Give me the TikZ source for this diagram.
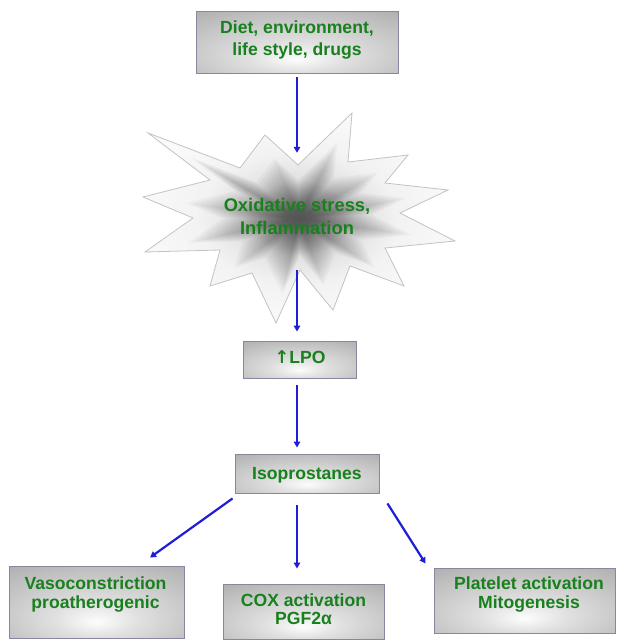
\documentclass[tikz,border=0pt]{standalone}
\usepackage{fontspec}
\setmainfont{Liberation Sans}
\newfontfamily\symfont{DejaVu Sans}
\usetikzlibrary{arrows.meta}
\definecolor{txtgreen}{RGB}{25,128,30}
\definecolor{arrblue}{RGB}{30,30,215}
\definecolor{boxedge}{RGB}{135,135,160}
\definecolor{staredge}{RGB}{195,195,195}
\definecolor{bxA}{gray}{0.99}
\definecolor{bxB}{gray}{0.88}
\definecolor{bxC}{gray}{0.68}
\definecolor{stA}{gray}{0.58}
\definecolor{stA2}{gray}{0.66}
\definecolor{stB}{gray}{0.88}
\definecolor{stB2}{gray}{0.95}
\definecolor{stC}{gray}{0.98}
\pgfdeclareradialshading{boxshade}{\pgfpoint{0bp}{-14bp}}{color(0bp)=(bxA); color(12bp)=(bxB); color(42bp)=(bxC); color(80bp)=(bxC)}
\pgfdeclareradialshading{starshade}{\pgfpoint{0bp}{0bp}}{color(0bp)=(stA); color(3bp)=(stA2); color(9bp)=(stB); color(16bp)=(stB2); color(26bp)=(stC); color(50bp)=(stC)}
\newcommand{\starpath}{(148,133) -- (240,168) -- (265,135) -- (298,165) -- (352,113) -- (348,162)
  -- (408,155) -- (385,183) -- (448,190) -- (400,213) -- (455,241) -- (385,248)
  -- (404,286) -- (350,266) -- (333,310) -- (300,270) -- (276,323) -- (252,273)
  -- (210,286) -- (220,250) -- (145,252) -- (193,218) -- (143,197) -- (210,180) -- cycle}
\tikzset{
  box/.style={draw=boxedge, line width=0.9pt, shading=boxshade, inner sep=0pt},
  txt/.style={text=txtgreen, font=\bfseries\fontsize{17.6}{22}\selectfont, align=center, inner sep=0pt},
  txtb/.style={txt, font=\bfseries\fontsize{17.6}{18.3}\selectfont},
  flow/.style={draw=arrblue, line width=2.2pt, -{Triangle[length=6pt,width=6.5pt]}},
  starlayer/.style={fill=black, fill opacity=0.03, draw=none}
}
\begin{document}
\begin{tikzpicture}[x=1pt,y=-1pt]
\useasboundingbox[fill=white] (0,0) rectangle (616,640);
% boxes
\node[box, minimum width=202, minimum height=62] (top) at (297,42) {};
\node[txt] (toptxt) at (297,39.5) {Diet, environment,\\life style, drugs};
% star
\shade[shading=starshade] \starpath;
\foreach \s in {0.72,0.68,...,0.08}{
  \begin{scope}[shift={(299,219)}, scale=\s, shift={(-299,-219)}]
    \path[starlayer] \starpath;
  \end{scope}
}
\draw[staredge, line width=0.8pt] \starpath;
\node[minimum width=312, minimum height=117, inner sep=0pt] (star) at (297,211.5) {};
\node[txt, font=\bfseries\fontsize{18.3}{23}\selectfont] (startxt) at (297,216.8) {Oxidative stress,\\Inflammation};
\node[box, minimum width=113, minimum height=37] (lpo) at (299.5,359.5) {};
\node[txt, anchor=base] (lpotxt) at (300,363) {{\symfont\bfseries ↑}LPO};
\node[box, minimum width=144, minimum height=39] (iso) at (307,473.5) {};
\node[txt, anchor=base] (isotxt) at (307,479) {Isoprostanes};
\node[box, minimum width=175, minimum height=72] (vaso) at (96.5,602) {};
\node[txtb] (vasotxt) at (95.5,594.6) {Vasoconstriction\\proatherogenic};
\node[box, minimum width=161, minimum height=55] (cox) at (303.5,611.5) {};
\node[txtb] (coxtxt) at (303.5,609.5) {COX activation\\PGF2α};
\node[box, minimum width=181, minimum height=65] (plat) at (524.5,600.5) {};
\node[txtb] (plattxt) at (529,594.6) {Platelet activation\\Mitogenesis};
% connectors
\draw[flow, shorten <=4pt] (top.south -| star.north) -- (star.north);
\draw[flow, shorten >=9pt] (star.south) -- (lpo.north -| star.south);
\draw[flow, shorten <=7pt, shorten >=6pt] (lpo.south -| star.south) -- (iso.north -| star.south);
\draw[flow, shorten <=12pt, shorten >=15pt] (iso.south -| star.south) -- (cox.north -| star.south);
\draw[flow] ([shift={(-2,5)}]iso.south west) -- ([shift={(53.5,-8)}]vaso.north);
\draw[flow] ([shift={(8,10)}]iso.south east) -- ([shift={(-8,-4)}]plat.north west);
\end{tikzpicture}
\end{document}
